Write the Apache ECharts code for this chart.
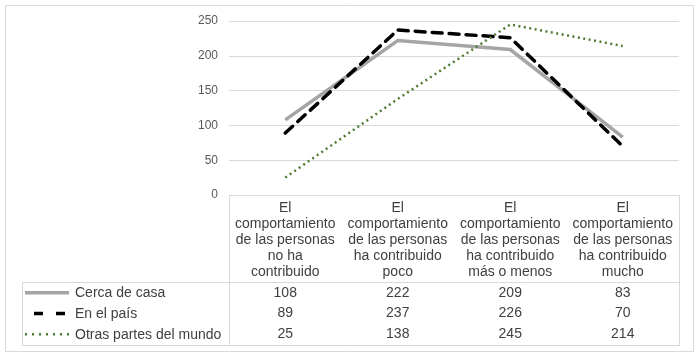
<!DOCTYPE html>
<html><head><meta charset="utf-8">
<script src="https://cdn.jsdelivr.net/npm/echarts@6/dist/echarts.min.js"></script>
<style>html,body{margin:0;padding:0;background:#fff}#c{width:700px;height:357px}</style>
</head><body><div id="c"></div>
<script>
const categories = [
  "El\ncomportamiento\nde las personas\nno ha\ncontribuido",
  "El\ncomportamiento\nde las personas\nha contribuido\npoco",
  "El\ncomportamiento\nde las personas\nha contribuido\nmás o menos",
  "El\ncomportamiento\nde las personas\nha contribuido\nmucho"
];
const seriesNames = ["Cerca de casa", "En el país", "Otras partes del mundo"];
const cercaDeCasa = [108, 222, 209, 83];
const enElPais = [89, 237, 226, 70];
const otrasPartes = [25, 138, 245, 214];
const yTicks = { min: 0, max: 250, interval: 50 };

const FONT = "'Liberation Sans', Arial, sans-serif";
const chart = echarts.init(document.getElementById('c'), null, { renderer: 'canvas' });
const G = { left: 229, right: 21, top: 21, bottom: 162 };
const tableBottom = 345, headerBottom = 282, tableLeft = 22, rowH = 20.7;
const allData = [cercaDeCasa, enElPais, otrasPartes];

chart.setOption({
  animation: false,
  textStyle: { fontFamily: FONT },
  grid: { left: G.left, right: G.right, top: G.top, bottom: G.bottom, containLabel: false },
  legend: {
    orient: 'vertical', left: 33, top: headerBottom + 4.5, itemGap: 6.7, padding: 0,
    itemWidth: 40, itemHeight: 14, icon: 'rect',
    itemStyle: { opacity: 0 }, lineStyle: { opacity: 0 },
    textStyle: { fontSize: 14, color: '#404040', padding: [0, 0, 0, -3], fontFamily: FONT },
    data: seriesNames
  },
  xAxis: {
    type: 'category', data: categories, boundaryGap: true,
    axisLine: { show: false }, axisTick: { show: false },
    axisLabel: { interval: 0, fontSize: 14, lineHeight: 16, color: '#404040', margin: 5, fontFamily: FONT }
  },
  yAxis: {
    type: 'value', min: yTicks.min, max: yTicks.max, interval: yTicks.interval,
    axisLine: { show: false }, axisTick: { show: false },
    axisLabel: { fontSize: 12, color: '#595959', margin: 11, fontFamily: FONT },
    splitLine: { lineStyle: { color: '#d9d9d9', width: 1 } }
  },
  series: [
    { name: seriesNames[0], type: 'line', data: cercaDeCasa, symbol: 'none',
      lineStyle: { color: '#a5a5a5', width: 3.5, cap: 'butt', join: 'miter' }, itemStyle: { color: '#a5a5a5' }, z: 2 },
    { name: seriesNames[1], type: 'line', data: enElPais, symbol: 'none',
      lineStyle: { color: '#000000', width: 3.5, type: [10, 7], cap: 'round' }, itemStyle: { color: '#000000' }, z: 3 },
    { name: seriesNames[2], type: 'line', data: otrasPartes, symbol: 'none',
      lineStyle: { color: '#4e7a32', width: 2.5, type: [2, 3.5], cap: 'butt' }, itemStyle: { color: '#4e7a32' }, z: 4 }
  ]
});

const right = 700 - G.right;
const top0 = chart.convertToPixel({ yAxisIndex: 0 }, 0);
const lineStyle = { stroke: '#d9d9d9', lineWidth: 1 };
const els = [];
function L(x1, y1, x2, y2) { els.push({ type: 'line', shape: { x1, y1, x2, y2 }, style: lineStyle, silent: true }); }
els.push({ type: 'rect', shape: { x: 5.5, y: 5.5, width: 688, height: 346 }, style: { fill: null, stroke: '#d9d9d9', lineWidth: 1 }, silent: true });
L(G.left + 0.5, top0, G.left + 0.5, tableBottom + 0.5);
L(right + 0.5, top0, right + 0.5, tableBottom + 0.5);
L(tableLeft + 0.5, headerBottom + 0.5, right + 0.5, headerBottom + 0.5);
L(tableLeft + 0.5, headerBottom + 0.5, tableLeft + 0.5, tableBottom + 0.5);
L(tableLeft + 0.5, tableBottom + 0.5, right + 0.5, tableBottom + 0.5);
allData.forEach((arr, r) => {
  arr.forEach((v, i) => {
    const x = chart.convertToPixel({ xAxisIndex: 0 }, i);
    els.push({ type: 'text', x: x, y: headerBottom + rowH * r + rowH / 2 + 0.5,
      style: { text: String(v), fill: '#404040', font: '14px ' + FONT, align: 'center', verticalAlign: 'middle' }, silent: true });
  });
});
const keyStyles = [
  { x1: 25, x2: 69, s: { stroke: '#a5a5a5', lineWidth: 3.5 } },
  { x1: 34, x2: 68, s: { stroke: '#000000', lineWidth: 3.5, lineDash: [9, 13] } },
  { x1: 25, x2: 69, s: { stroke: '#4e7a32', lineWidth: 2.5, lineDash: [2, 5] } }
];
seriesNames.forEach((n, r) => {
  const y = headerBottom + rowH * r + rowH / 2 + 0.5;
  const k = keyStyles[r];
  els.push({ type: 'line', shape: { x1: k.x1, y1: y, x2: k.x2, y2: y }, style: k.s, silent: true });
});
chart.setOption({ graphic: { elements: els } });
</script>
</body></html>
